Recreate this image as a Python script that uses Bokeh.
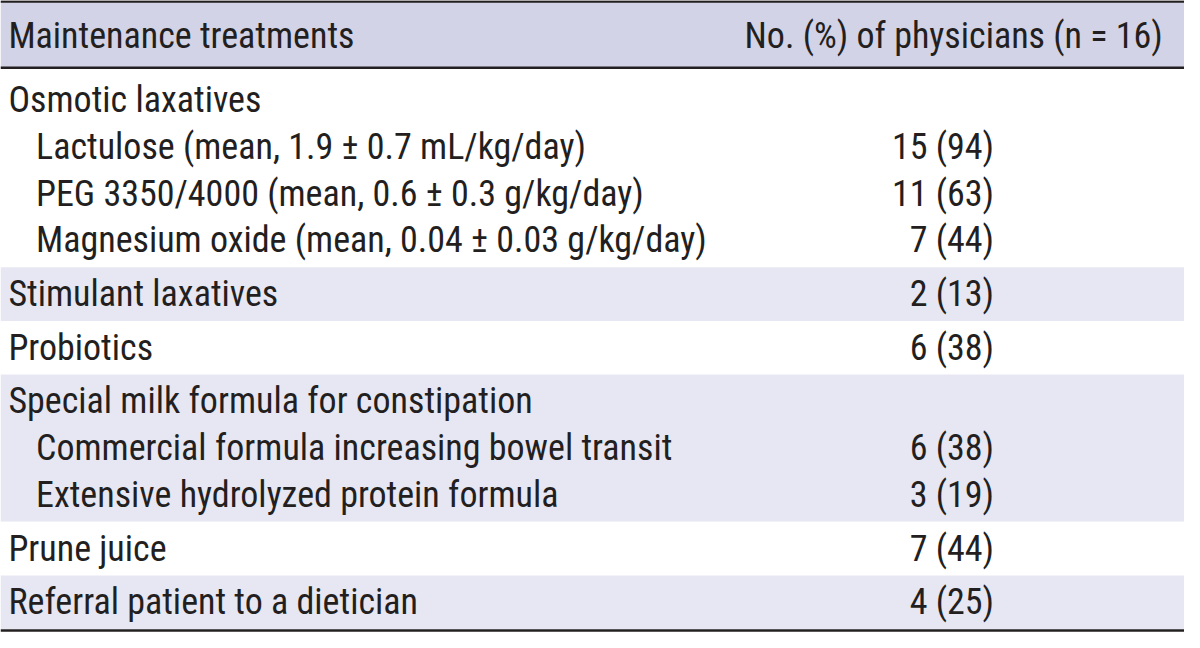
from bokeh.plotting import figure
from bokeh.models import ColumnDataSource, Range1d
from bokeh.core.properties import value
from bokeh.embed import file_html
from bokeh.resources import INLINE

# ---- data ----
header_left = "Maintenance treatments"
header_right = "No. (%) of physicians (n = 16)"
treatments = [
    "Osmotic laxatives",
    "Lactulose (mean, 1.9 \u00b1 0.7 mL/kg/day)",
    "PEG 3350/4000 (mean, 0.6 \u00b1 0.3 g/kg/day)",
    "Magnesium oxide (mean, 0.04 \u00b1 0.03 g/kg/day)",
    "Stimulant laxatives",
    "Probiotics",
    "Special milk formula for constipation",
    "Commercial formula increasing bowel transit",
    "Extensive hydrolyzed protein formula",
    "Prune juice",
    "Referral patient to a dietician",
]
indent = [0, 1, 1, 1, 0, 0, 0, 1, 1, 0, 0]
counts = [None, 15, 11, 7, 2, 6, None, 6, 3, 7, 4]
percents = [None, 94, 63, 44, 13, 38, None, 38, 19, 44, 25]
group = [0, 0, 0, 0, 1, 2, 3, 3, 3, 4, 5]

# ---- layout (reference pixel space) ----
W, H = 1200, 648
FONT = "'Roboto Condensed', 'DejaVu Sans Condensed', sans-serif"
FS = "36px"
TXT = "#231f20"
HEAD_BG = "#d3d3e7"
ROW_BG = "#e7e7f3"
header_bottom = 69
first_gap = 5.5
pad_top, step, pad_bot = 27.5, 48, 27.5

row_y = []
band_top, band_bot, band_shade = [], [], []
y = header_bottom
i = 0
while i < len(treatments):
    g = group[i]
    n = group.count(g)
    top = y
    start = top + (first_gap if i == 0 else 0) + pad_top
    for k in range(n):
        row_y.append(start + k * step)
    bot = start + (n - 1) * step + pad_bot
    band_top.append(top)
    band_bot.append(bot)
    band_shade.append(ROW_BG if g % 2 == 1 else "#ffffff")
    y = bot
    i += n
table_bottom = y

p = figure(width=1184, height=632, output_backend="svg", toolbar_location=None,
           x_range=Range1d(0, W), y_range=Range1d(H, 0), min_border=0)
p.axis.visible = False
p.grid.visible = False
p.outline_line_color = None
p.background_fill_color = "white"
p.border_fill_color = "white"

# header background
p.quad(left=[0], right=[W], top=[1], bottom=[header_bottom], fill_color=HEAD_BG, line_color=None)
# row bands
p.quad(left=[0] * len(band_top), right=[W] * len(band_top), top=band_top, bottom=band_bot,
       fill_color=band_shade, line_color=None)
# rules
p.segment(x0=[0, 0, 0], x1=[W, W, W], y0=[1, header_bottom, table_bottom + 1.5],
          y1=[1, header_bottom, table_bottom + 1.5], line_color=TXT, line_width=2.5)

# header texts
p.text(x=[8], y=[36], text=[header_left], text_font=value(FONT), text_font_size=FS,
       text_color=TXT, text_baseline="middle", text_align="left")
p.text(x=[1178], y=[36], text=[header_right], text_font=value(FONT), text_font_size=FS,
       text_color=TXT, text_baseline="middle", text_align="right")

# row labels
src = ColumnDataSource(dict(
    x=[8 + 28 * d for d in indent],
    y=row_y,
    t=treatments,
))
p.text(x="x", y="y", text="t", source=src, text_font=value(FONT), text_font_size=FS,
       text_color=TXT, text_baseline="middle", text_align="left")

vals_y, vals_t = [], []
for c, pc, yy in zip(counts, percents, row_y):
    if c is not None:
        vals_y.append(yy)
        vals_t.append(f"{c} ({pc})")
src2 = ColumnDataSource(dict(x=[1007] * len(vals_y), y=vals_y, t=vals_t))
p.text(x="x", y="y", text="t", source=src2, text_font=value(FONT), text_font_size=FS,
       text_color=TXT, text_baseline="middle", text_align="right")

open("out.html", "w").write(file_html(p, INLINE))
